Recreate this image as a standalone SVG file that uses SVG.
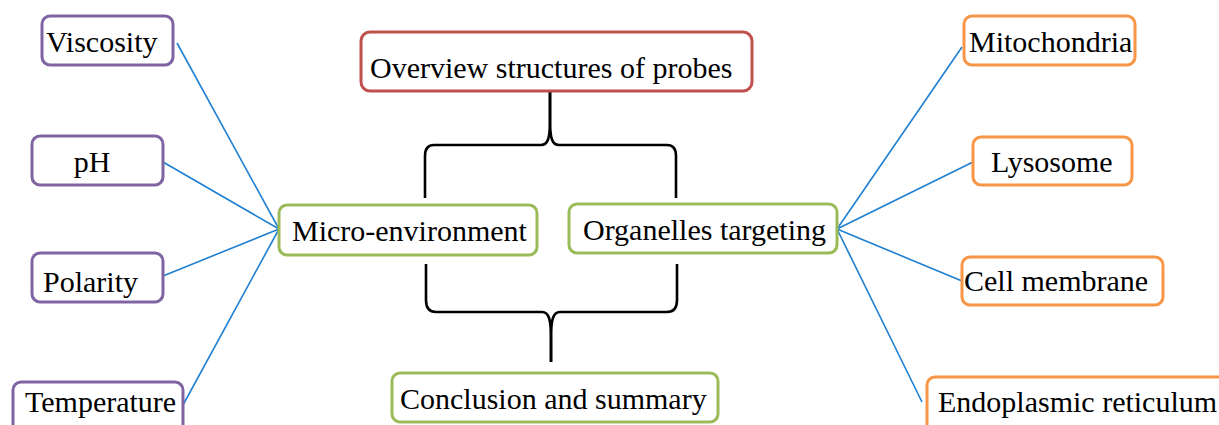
<svg xmlns="http://www.w3.org/2000/svg" width="1219" height="425" viewBox="0 0 1219 425">
<style>
.box{fill:#fff;stroke-width:3;}
.p{stroke:#8064A2;}
.r{stroke:#C0504D;}
.g{stroke:#9BBB59;}
.o{stroke:#F79646;}
text{font-family:"Liberation Serif","Times New Roman",serif;font-size:30px;fill:#000;}
.link{stroke:#1F7FD0;stroke-width:1.6;fill:none;}
.brace{stroke:#000;stroke-width:2.6;fill:none;}
</style>
<rect width="1219" height="425" fill="#fff"/>
<g id="connectors">
<line class="link" x1="177" y1="43" x2="279" y2="229"/>
<line class="link" x1="163" y1="162" x2="279" y2="229"/>
<line class="link" x1="163" y1="276" x2="279" y2="229"/>
<line class="link" x1="183" y1="405" x2="279" y2="229"/>
<line class="link" x1="962" y1="47" x2="837" y2="229"/>
<line class="link" x1="973" y1="162" x2="837" y2="229"/>
<line class="link" x1="962" y1="281" x2="837" y2="229"/>
<line class="link" x1="922" y1="402" x2="837" y2="229"/>
<path class="brace" d="M550,91 L550,120 C550,138 548,145 541,145 L434,145 Q425,145 425,156 L425,198"/>
<path class="brace" d="M550,91 L550,120 C550,138 552,145 559,145 L667,145 Q676,145 676,156 L676,198"/>
<path class="brace" d="M426,264 L426,300 Q426,312 436,312 L542,312 C549,312 551,320 551,338 L551,362"/>
<path class="brace" d="M677,264 L677,300 Q677,312 667,312 L560,312 C553,312 551,320 551,338 L551,362"/>
</g>
<g id="n-overview"><rect class="box r" x="361" y="32" width="391" height="59" rx="9"/><text x="370" y="78">Overview structures of probes</text></g>
<g id="n-micro"><rect class="box g" x="279" y="205" width="258" height="50" rx="8"/><text x="292" y="241">Micro-environment</text></g>
<g id="n-organelles"><rect class="box g" x="569" y="204" width="268" height="49" rx="8"/><text x="583" y="240">Organelles targeting</text></g>
<g id="n-conclusion"><rect class="box g" x="392" y="373" width="326" height="49" rx="8"/><text x="400" y="409">Conclusion and summary</text></g>
<g id="n-viscosity"><rect class="box p" x="42" y="16" width="131" height="49" rx="8"/><text x="46" y="52">Viscosity</text></g>
<g id="n-ph"><rect class="box p" x="32" y="136" width="131" height="49" rx="8"/><text x="92" y="172" text-anchor="middle">pH</text></g>
<g id="n-polarity"><rect class="box p" x="32" y="253" width="131" height="49" rx="8"/><text x="43" y="292">Polarity</text></g>
<g id="n-temperature"><rect class="box p" x="13" y="382" width="170" height="60" rx="8"/><text x="25" y="412">Temperature</text></g>
<g id="n-mitochondria"><rect class="box o" x="964" y="16" width="171" height="49" rx="8"/><text x="969" y="52">Mitochondria</text></g>
<g id="n-lysosome"><rect class="box o" x="973" y="137" width="159" height="48" rx="8"/><text x="991" y="172">Lysosome</text></g>
<g id="n-cellmembrane"><rect class="box o" x="962" y="257" width="201" height="48" rx="8"/><text x="964" y="291">Cell membrane</text></g>
<g id="n-er"><rect class="box o" x="927" y="377" width="300" height="60" rx="8"/><text x="938" y="412">Endoplasmic reticulum</text></g>
</svg>
